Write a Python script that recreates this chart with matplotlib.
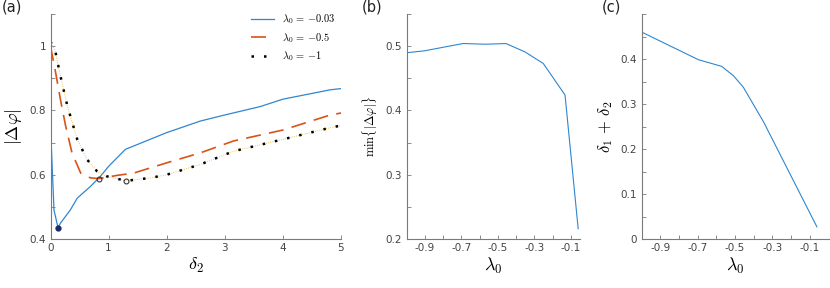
import numpy as np
import matplotlib
matplotlib.use("Agg")
import matplotlib.pyplot as plt
from matplotlib.ticker import MultipleLocator, FixedLocator

plt.rcParams["font.family"] = ["DejaVu Sans"]
plt.rcParams["mathtext.fontset"] = "cm"

# panel (a): |dphi| vs delta_2 for three lambda_0
d2_a = [0, 0.03, 0.06, 0.13, 0.17, 0.34, 0.46, 0.69, 0.86, 1.0, 1.29, 2.0, 2.58, 2.98, 3.61, 4.0, 4.81, 5.0]
phi_a = [0.752, 0.62, 0.49, 0.435, 0.449, 0.49, 0.527, 0.564, 0.595, 0.626, 0.679, 0.731, 0.767, 0.785, 0.812, 0.835, 0.864, 0.868]
d2_b = [0, 0.086, 0.17, 0.26, 0.37, 0.52, 0.69, 0.84, 1.15, 1.43, 2.0, 2.58, 3.15, 4.0, 4.8, 5.0]
phi_b = [1.0, 0.92, 0.835, 0.752, 0.668, 0.605, 0.59, 0.588, 0.598, 0.605, 0.637, 0.668, 0.705, 0.739, 0.785, 0.792]
d2_c = [0, 0.086, 0.17, 0.29, 0.46, 0.63, 0.80, 0.97, 1.30, 1.72, 2.0, 2.58, 3.15, 4.0, 4.81, 5.0]
phi_c = [1.015, 0.981, 0.908, 0.814, 0.71, 0.647, 0.611, 0.595, 0.581, 0.59, 0.6, 0.632, 0.673, 0.71, 0.746, 0.753]
labels_a = [r"$\lambda_0\, =\, {-0.03}$", r"$\lambda_0\, =\, {-0.5}$", r"$\lambda_0\, =\, {-1}$"]

# panel (b): min |dphi| vs lambda_0
lam_b = [-1.0, -0.9, -0.69, -0.57, -0.455, -0.351, -0.251, -0.132, -0.06]
minphi = [0.4897, 0.4928, 0.5041, 0.503, 0.504, 0.491, 0.473, 0.424, 0.216]

# panel (c): delta1 + delta2 vs lambda_0
lam_c = [-1.0, -0.696, -0.571, -0.508, -0.455, -0.347, -0.062]
dsum = [0.46, 0.3985, 0.3836, 0.3627, 0.337, 0.26, 0.027]

blue, orange, yellow = "#2f86d0", "#D95319", "#EDB120"
gray = "#7a7a7a"

fig = plt.figure(figsize=(8.3, 2.88), dpi=100)
ax1 = fig.add_axes([50.5 / 830, 49 / 288, 290.5 / 830, 225 / 288])
ax2 = fig.add_axes([406.5 / 830, 49 / 288, 173.5 / 830, 225 / 288])
ax3 = fig.add_axes([641.5 / 830, 49 / 288, 187 / 830, 225 / 288])

for ax in (ax1, ax2, ax3):
    ax.spines["top"].set_visible(False)
    ax.spines["right"].set_visible(False)
    for s in ("left", "bottom"):
        ax.spines[s].set_color(gray)
        ax.spines[s].set_linewidth(0.8)
    ax.tick_params(which="both", direction="in", length=3, width=0.6, color=gray,
                   labelsize=7.5, labelcolor="#444444", pad=3)
    ax.tick_params(which="minor", length=3)

# (a)
ax1.plot(d2_a, phi_a, color=blue, lw=0.9, label=labels_a[0])
ax1.plot(d2_b, phi_b, color=orange, lw=1.2, dashes=(9, 5), label=labels_a[1])
ax1.plot(d2_c, phi_c, color=yellow, lw=0.6, ls=":")
ax1.plot(d2_c, phi_c, color="black", lw=1.8, dashes=(1, 4), label=labels_a[2])
ax1.plot(d2_a[3], phi_a[3], "o", ms=3.5, color="#1a2a6c")
ax1.plot(d2_b[7], phi_b[7], "o", ms=3.5, mfc="none", mec="#333333", mew=0.8)
ax1.plot(d2_c[8], phi_c[8], "o", ms=3.5, mfc="none", mec="#333333", mew=0.8)
ax1.set_xlim(0, 5)
ax1.set_ylim(0.4, 1.1)
ax1.xaxis.set_major_locator(MultipleLocator(1))
ax1.yaxis.set_major_locator(FixedLocator([0.4, 0.6, 0.8, 1.0]))
ax1.yaxis.set_minor_locator(FixedLocator([0.5, 0.7, 0.9, 1.1]))
ax1.set_yticklabels(["0.4", "0.6", "0.8", "1"])
ax1.set_xlabel(r"$\delta_2$", fontsize=13, labelpad=2)
ax1.set_ylabel(r"$|\Delta\varphi|$", fontsize=13, labelpad=4)
ax1.legend(loc="upper right", frameon=False, fontsize=7.5, handlelength=2.2,
           borderaxespad=0.1, labelspacing=0.45, bbox_to_anchor=(1.0, 1.03))

# (b)
ax2.plot(lam_b, minphi, color=blue, lw=0.8)
ax2.set_xlim(-1, -0.05)
ax2.set_ylim(0.2, 0.55)
ax2.xaxis.set_major_locator(FixedLocator([-0.9, -0.7, -0.5, -0.3, -0.1]))
ax2.xaxis.set_minor_locator(FixedLocator([-0.8, -0.6, -0.4, -0.2]))
ax2.yaxis.set_major_locator(FixedLocator([0.2, 0.3, 0.4, 0.5]))
ax2.yaxis.set_minor_locator(FixedLocator([0.25, 0.35, 0.45, 0.55]))
ax2.set_xticklabels(["-0.9", "-0.7", "-0.5", "-0.3", "-0.1"])
ax2.set_xlabel(r"$\lambda_0$", fontsize=13, labelpad=2)
ax2.set_ylabel(r"$\mathrm{min}\{|\Delta\varphi|\}$", fontsize=9, labelpad=4)

# (c)
ax3.plot(lam_c, dsum, color=blue, lw=0.8)
ax3.set_xlim(-1, 0)
ax3.set_ylim(0, 0.5)
ax3.xaxis.set_major_locator(FixedLocator([-0.9, -0.7, -0.5, -0.3, -0.1]))
ax3.xaxis.set_minor_locator(FixedLocator([-0.8, -0.6, -0.4, -0.2]))
ax3.yaxis.set_major_locator(FixedLocator([0, 0.1, 0.2, 0.3, 0.4]))
ax3.yaxis.set_minor_locator(FixedLocator([0.05, 0.15, 0.25, 0.35, 0.45, 0.5]))
ax3.set_xticklabels(["-0.9", "-0.7", "-0.5", "-0.3", "-0.1"])
ax3.set_yticklabels(["0", "0.1", "0.2", "0.3", "0.4"])
ax3.set_xlabel(r"$\lambda_0$", fontsize=13, labelpad=2)
ax3.set_ylabel(r"$\delta_1\, +\, \delta_2$", fontsize=12, labelpad=4)

fig.text(2 / 830, 1 - 12 / 288, "(a)", fontsize=10.5, color="#222222")
fig.text(362 / 830, 1 - 12 / 288, "(b)", fontsize=10.5, color="#222222")
fig.text(602 / 830, 1 - 12 / 288, "(c)", fontsize=10.5, color="#222222")

fig.savefig("out.png", dpi=100)
